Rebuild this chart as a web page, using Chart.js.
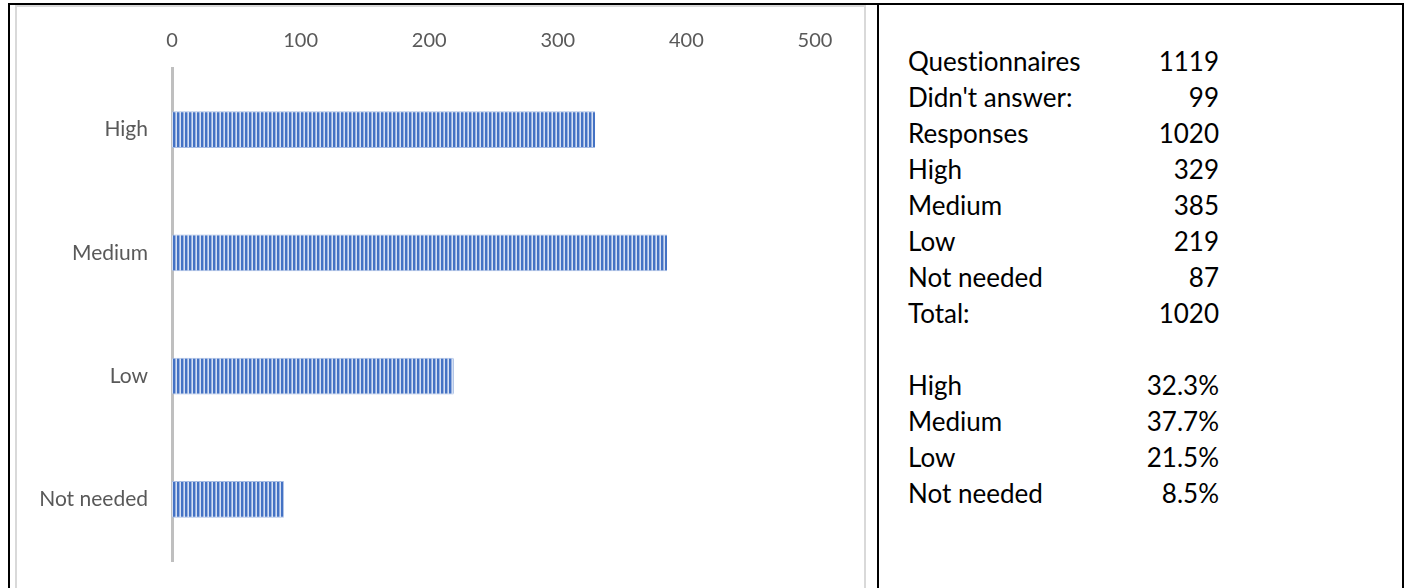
<!DOCTYPE html>
<html>
<head>
<meta charset="utf-8">
<script src="https://cdn.jsdelivr.net/npm/chart.js@4/dist/chart.umd.min.js"></script>
<style>
  html, body { margin: 0; padding: 0; background: #fff; overflow: hidden; }
  body { width: 1408px; height: 588px; position: relative; font-family: Lato, "Open Sans", sans-serif; }
  .cell { position: absolute; border: 2px solid #000; border-bottom: none; top: 3px; height: 600px; box-sizing: border-box; }
  #left { left: 8px; width: 871px; }
  #right { left: 877px; width: 527px; }
  #chartBox { position: absolute; left: 15px; top: 5px; width: 851px; height: 600px; border: 2px solid #d9d9d9; border-bottom: none; box-sizing: border-box; }
  #chartWrap { position: absolute; left: 17px; top: 7px; width: 846px; height: 581px; }
  .row { position: absolute; left: 908px; width: 311px; height: 36px; line-height: 36px; font-size: 26px; color: #000; font-variant-ligatures: none; }
  .row .v { position: absolute; right: 0; top: 0; }
</style>
</head>
<body>
<div class="cell" id="left"></div>
<div class="cell" id="right"></div>
<div id="chartBox"></div>
<div id="chartWrap"><canvas id="barChart" width="846" height="581"></canvas></div>
<div id="summary"></div>
<script>
// chart data
const categories = ["High", "Medium", "Low", "Not needed"];
const responses = [329, 385, 219, 87];
const xTicks = [0, 100, 200, 300, 400, 500];

// table on the right
const summaryLabels = ["Questionnaires", "Didn't answer:", "Responses", "High", "Medium", "Low", "Not needed", "Total:"];
const summaryValues = ["1119", "99", "1020", "329", "385", "219", "87", "1020"];
const shareLabels = ["High", "Medium", "Low", "Not needed"];
const shareValues = ["32.3%", "37.7%", "21.5%", "8.5%"];

function addRow(label, value, center) {
    let row = document.createElement("div");
    row.className = "row";
    row.style.top = (center - 18) + "px";
    row.innerHTML = "<span></span><span class='v'></span>";
    row.children[0].textContent = label;
    row.children[1].textContent = value;
    document.getElementById("summary").appendChild(row);
}
summaryLabels.forEach((l, i) => addRow(l, summaryValues[i], 61 + i * 36));
shareLabels.forEach((l, i) => addRow(l, shareValues[i], 385 + i * 36));

// striped fill like the excel bars
function stripes() {
    let c = document.createElement("canvas");
    c.width = 4; c.height = 1;
    let g = c.getContext("2d");
    g.fillStyle = "#4472c4"; g.fillRect(0, 0, 2, 1);
    g.fillStyle = "#9ab3e0"; g.fillRect(2, 0, 1, 1);
    g.fillStyle = "#d6e0f3"; g.fillRect(3, 0, 1, 1);
    return g.createPattern(c, "repeat");
}

new Chart(document.getElementById("barChart"), {
    type: "bar",
    data: {
        labels: categories,
        datasets: [{
            data: responses,
            backgroundColor: stripes(),
            borderColor: "#a8bde4",
            borderWidth: { top: 1, bottom: 1, left: 0, right: 0 },
            borderSkipped: false,
            barPercentage: 0.3,
            categoryPercentage: 1
        }]
    },
    options: {
        indexAxis: "y",
        responsive: false,
        animation: false,
        layout: { padding: { left: 0, right: 48, top: 0, bottom: 27 } },
        plugins: { legend: { display: false }, tooltip: { enabled: false } },
        scales: {
            x: {
                position: "top",
                min: 0,
                max: 500,
                afterBuildTicks: axis => { axis.ticks = xTicks.map(v => ({ value: v })); },
                afterFit: axis => { axis.height = 61; },
                grid: { display: false, drawTicks: false },
                border: { display: false },
                ticks: { color: "#595959", font: { family: "Lato", size: 20 }, padding: 15 }
            },
            y: {
                afterFit: axis => { axis.width = 155; axis.paddingTop = 0; axis.paddingBottom = 0; },
                grid: { display: false, drawTicks: false },
                border: { display: true, color: "#bfbfbf", width: 3 },
                ticks: { color: "#595959", font: { family: "Lato", size: 21 }, padding: 24 }
            }
        }
    }
});
</script>
</body>
</html>
